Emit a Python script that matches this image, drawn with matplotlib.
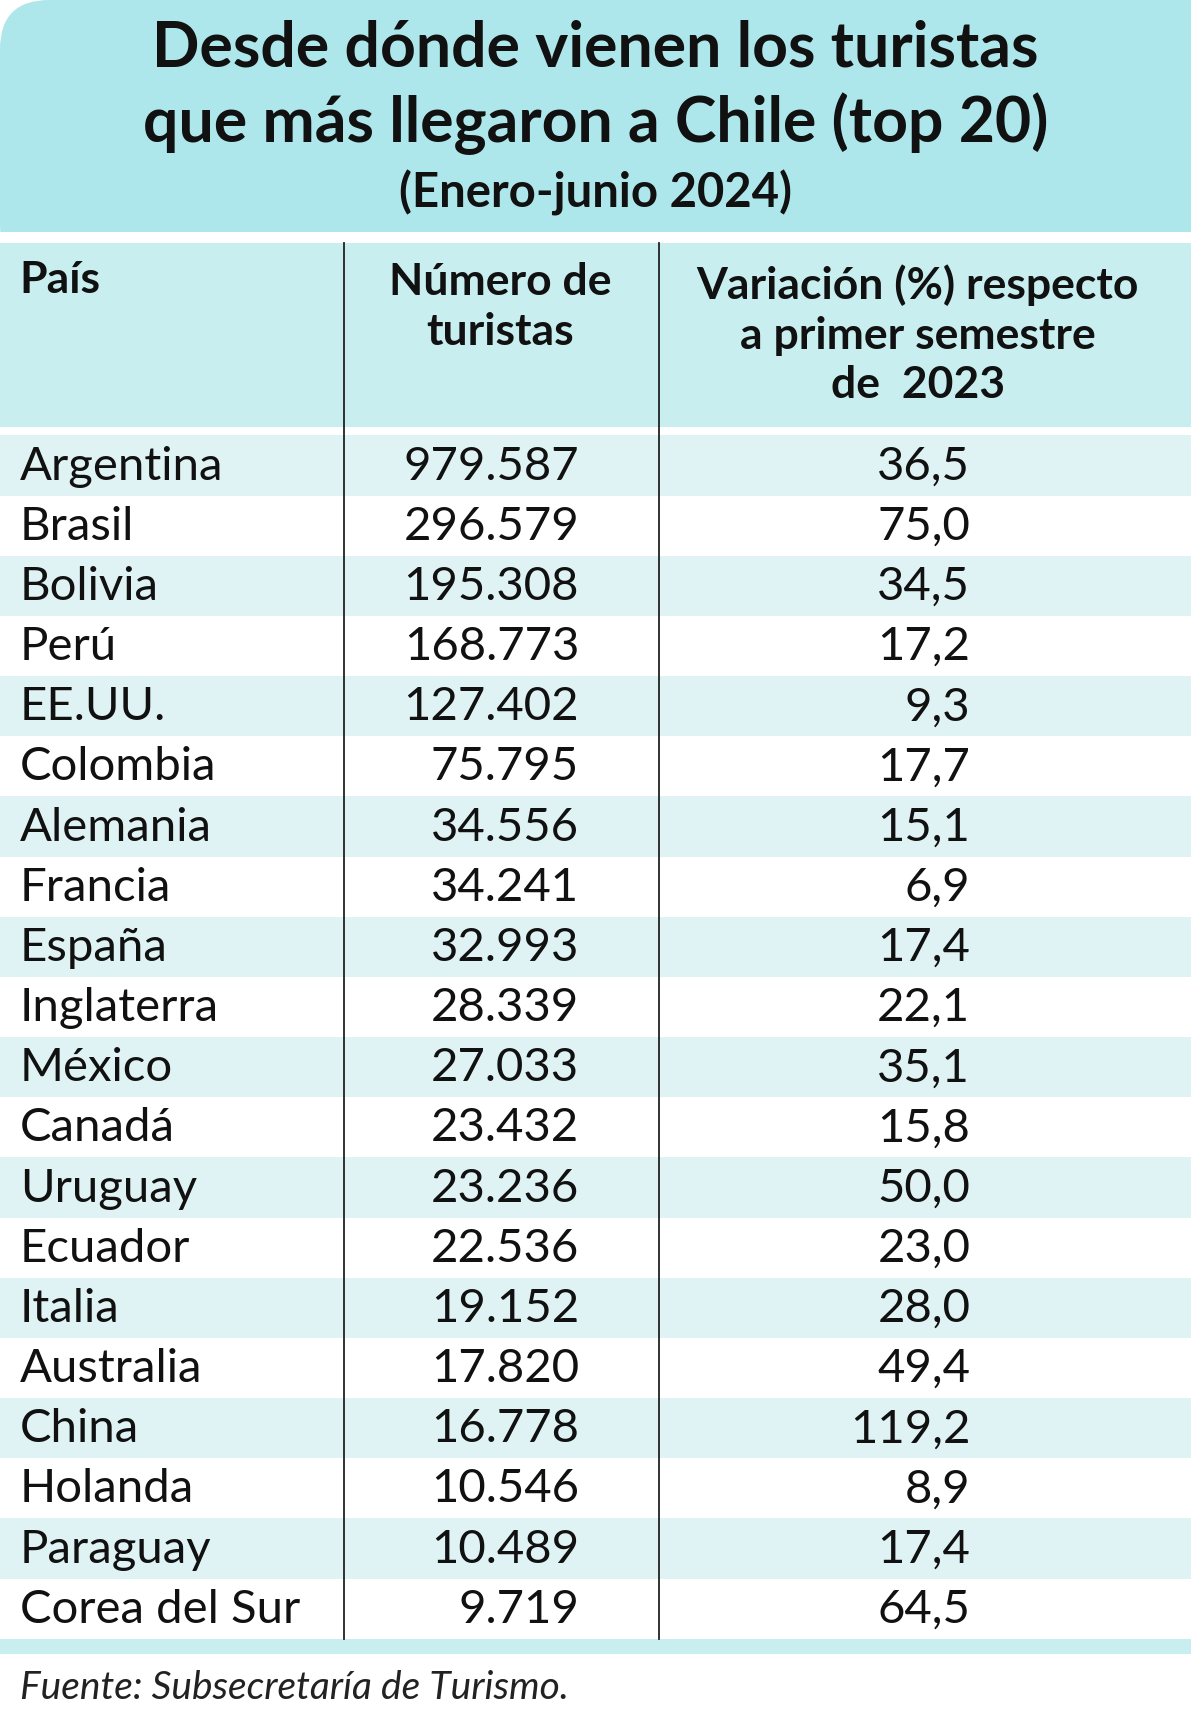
import matplotlib.pyplot as plt
from matplotlib.patches import Rectangle, FancyBboxPatch

paises = ['Argentina', 'Brasil', 'Bolivia', 'Perú', 'EE.UU.', 'Colombia', 'Alemania',
          'Francia', 'España', 'Inglaterra', 'México', 'Canadá', 'Uruguay', 'Ecuador',
          'Italia', 'Australia', 'China', 'Holanda', 'Paraguay', 'Corea del Sur']
turistas = [979587, 296579, 195308, 168773, 127402, 75795, 34556, 34241, 32993, 28339,
            27033, 23432, 23236, 22536, 19152, 17820, 16778, 10546, 10489, 9719]
variacion = [36.5, 75.0, 34.5, 17.2, 9.3, 17.7, 15.1, 6.9, 17.4, 22.1,
             35.1, 15.8, 50.0, 23.0, 28.0, 49.4, 119.2, 8.9, 17.4, 64.5]

FONT = ['Lato', 'DejaVu Sans']
TITLE_BG = '#aee7eb'
HEAD_BG = '#c8eef0'
ROW_BG = '#e0f3f4'

def miles(n):
    return f'{n:,}'.replace(',', '.')

def coma(v):
    return f'{v:.1f}'.replace('.', ',')

fig = plt.figure(figsize=(11.91, 17.12), dpi=100)
ax = fig.add_axes([0, 0, 1, 1])
ax.set_xlim(0, 1090)
ax.set_ylim(1565, 0)
ax.axis('off')

# title band (only top-left corner rounded)
ax.add_patch(FancyBboxPatch((0, 0), 1090, 250, boxstyle='round,pad=0,rounding_size=45',
                            fc=TITLE_BG, ec='none', mutation_aspect=1))
ax.add_patch(Rectangle((500, 0), 590, 212, fc=TITLE_BG, ec='none'))
ax.add_patch(Rectangle((0, 212), 1090, 60, fc='white', ec='none'))
ax.text(545, 44, 'Desde dónde vienen los turistas', ha='center', va='center',
        fontsize=45, fontweight='bold', family=FONT, color='#111')
ax.text(545, 113, 'que más llegaron a Chile (top 20)', ha='center', va='center',
        fontsize=45, fontweight='bold', family=FONT, color='#111')
ax.text(545, 176, '(Enero-junio 2024)', ha='center', va='center',
        fontsize=34, fontweight='bold', family=FONT, color='#111')

# header
ax.add_patch(Rectangle((0, 222), 1090, 168, fc=HEAD_BG, ec='none'))
ax.text(18, 256, 'País', ha='left', va='center', fontsize=32, fontweight='bold',
        family=FONT, color='#111')
ax.text(458, 281, 'Número de\nturistas', ha='center', va='center', fontsize=32,
        fontweight='bold', family=FONT, color='#111', linespacing=1.3)
ax.text(840, 306, 'Variación (%) respecto\na primer semestre\nde  2023', ha='center',
        va='center', fontsize=32, fontweight='bold', family=FONT, color='#111',
        linespacing=1.3)

# rows
top = 398
h = 55
for i, (p, t, v) in enumerate(zip(paises, turistas, variacion)):
    y0 = top + i * h
    if i % 2 == 0:
        ax.add_patch(Rectangle((0, y0), 1090, h, fc=ROW_BG, ec='none'))
    yc = y0 + h / 2 + 1
    ax.text(18, yc, p, ha='left', va='center', fontsize=34, family=FONT, color='#111')
    ax.text(530, yc, miles(t), ha='right', va='center', fontsize=34, family=FONT, color='#111')
    ax.text(888, yc, coma(v), ha='right', va='center', fontsize=34, family=FONT, color='#111')

bottom = top + len(paises) * h
ax.add_patch(Rectangle((0, bottom), 1090, 14, fc=HEAD_BG, ec='none'))
for x in (315, 603):
    ax.plot([x, x], [222, bottom], color='#222', lw=1.3)

ax.text(18, 1543, 'Fuente: Subsecretaría de Turismo.', ha='left', va='center',
        fontsize=28, style='italic', family=FONT, color='#222')

fig.savefig('out.png', dpi=100)
